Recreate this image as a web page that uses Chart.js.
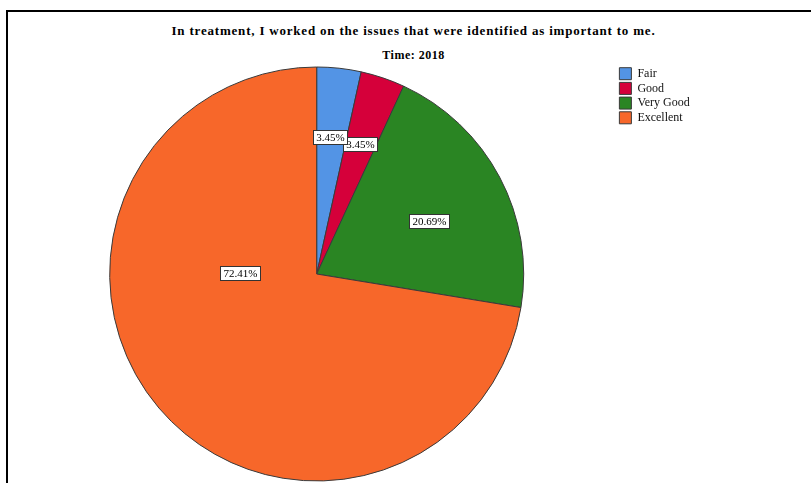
<!DOCTYPE html>
<html>
<head>
<meta charset="utf-8">
<script src="https://cdn.jsdelivr.net/npm/chart.js@4.4.1/dist/chart.umd.min.js"></script>
<style>
    html, body { margin: 0; padding: 0; background: #fff; overflow: hidden; }
    #wrap { position: relative; width: 811px; height: 483px; overflow: hidden; }
    #frame { position: absolute; left: 6px; top: 10px; width: 900px; height: 600px; border-left: 2px solid #000; border-top: 2px solid #000; }
    .head { position: absolute; left: 16px; width: 795px; text-align: center; font-family: 'Liberation Serif', serif; font-weight: bold; color: #000; }
    #title { top: 23px; font-size: 13px; line-height: 16px; letter-spacing: 0.8px; }
    #subtitle { top: 47px; font-size: 12px; line-height: 16px; letter-spacing: 0.5px; }
    #holder { position: absolute; left: 0; top: 0; width: 811px; height: 483px; }
</style>
</head>
<body>
<div id="wrap">
    <div id="frame"></div>
    <div class="head" id="title">In treatment, I worked on the issues that were identified as important to me.</div>
    <div class="head" id="subtitle">Time: 2018</div>
    <div id="holder"><canvas id="chart"></canvas></div>
</div>
<script>
const categories = ['Fair', 'Good', 'Very Good', 'Excellent'];
const percentages = [3.45, 3.45, 20.69, 72.41];
const sliceColors = ['#5394E5', '#D5003A', '#2A8523', '#F7672A'];

// where each value box sits: share of the slice's sweep, share of the radius
const labelSpots = [
    { along: 0.47, out: 0.665 },
    { along: 0.52, out: 0.66 },
    { along: 0.54, out: 0.60 },
    { along: 0.655, out: 0.37 }
];

const sliceLabels = {
    id: 'sliceLabels',
    afterDatasetsDraw(chart, args, opts) {
        const ctx = chart.ctx;
        const meta = chart.getDatasetMeta(0);
        const values = chart.data.datasets[0].data;
        ctx.save();
        ctx.font = opts.font;
        ctx.textAlign = 'center';
        ctx.textBaseline = 'middle';
        // last first, so the first slice's box ends up on top
        for (let i = meta.data.length - 1; i >= 0; i--) {
            const arc = meta.data[i];
            const spot = opts.spots[i];
            const a = arc.startAngle + (arc.endAngle - arc.startAngle) * spot.along;
            const r = arc.outerRadius * spot.out;
            const x = arc.x + Math.cos(a) * r;
            const y = arc.y + Math.sin(a) * r;
            const text = values[i].toFixed(2) + '%';
            const w = Math.round(ctx.measureText(text).width + 7);
            const h = 15;
            const left = Math.round(x - w / 2);
            const top = Math.round(y - h / 2);
            ctx.fillStyle = '#fff';
            ctx.fillRect(left, top, w, h);
            ctx.strokeStyle = '#333';
            ctx.lineWidth = 1;
            ctx.strokeRect(left + 0.5, top + 0.5, w - 1, h - 1);
            ctx.fillStyle = '#000';
            ctx.fillText(text, left + w / 2, top + h / 2 + 1);
        }
        ctx.restore();
    }
};

new Chart(document.getElementById('chart'), {
    type: 'pie',
    data: {
        labels: categories,
        datasets: [{
            data: percentages,
            backgroundColor: sliceColors,
            borderColor: '#3a3a3a',
            borderWidth: 1,
            radius: 207
        }]
    },
    options: {
        responsive: true,
        maintainAspectRatio: false,
        animation: false,
        layout: {
            padding: { left: 16.7, right: 111.3, top: 65, bottom: 0 }
        },
        plugins: {
            legend: {
                position: 'right',
                align: 'start',
                fullSize: false,
                labels: {
                    boxWidth: 12,
                    boxHeight: 12,
                    padding: 2.7,
                    color: '#111',
                    font: { family: 'Liberation Serif', size: 12 }
                }
            },
            tooltip: { enabled: false },
            sliceLabels: {
                font: '11px "Liberation Serif"',
                spots: labelSpots
            }
        }
    },
    plugins: [sliceLabels]
});
</script>
</body>
</html>
